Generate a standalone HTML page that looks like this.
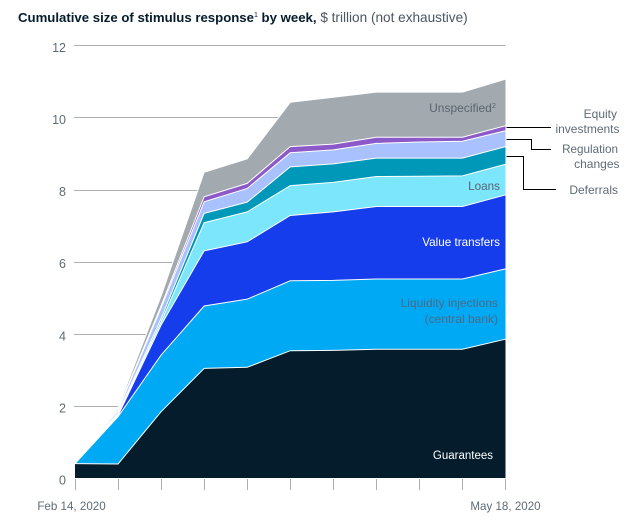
<!DOCTYPE html>
<html>
<head>
<meta charset="utf-8">
<style>
html,body{margin:0;padding:0;background:#fff;}
body{width:639px;height:522px;overflow:hidden;font-family:"Liberation Sans",sans-serif;}
svg{display:block;}
text{font-family:"Liberation Sans",sans-serif;}
</style>
</head>
<body>
<svg id="chart" width="639" height="522" viewBox="0 0 639 522" xmlns="http://www.w3.org/2000/svg">
  <text x="18" y="22" font-size="13.2" fill="#051c2c"><tspan font-weight="bold" fill="#051c2c">Cumulative size of stimulus response</tspan><tspan font-size="7" dy="-5" fill="#051c2c">1</tspan><tspan font-weight="bold" dy="5" fill="#051c2c"> by week,</tspan><tspan font-size="13.6" fill="#4a5560"> $ trillion (not exhaustive)</tspan></text>
  <g id="grid"></g>
  <g id="areas"></g>
  <g id="edges"></g>
  <g id="axis"></g>
  <g id="labels"></g>
  <g fill="none" stroke="#000" stroke-width="1">
    <path d="M506.5 127.5H551"/>
    <path d="M506.5 139.5H531.5V149.5H551"/>
    <path d="M506.5 156.5H523.5V189.5H556"/>
  </g>
</svg>
<script>
var weeks = ['Feb 14, 2020','','','','','','','','','','May 18, 2020'];
var yTicks = [0,2,4,6,8,10,12];
var guarantees   = [0.40,0.39,1.84,3.04,3.07,3.53,3.54,3.57,3.57,3.57,3.85];
var liquidity    = [0.00,1.31,1.57,1.73,1.89,1.94,1.94,1.95,1.95,1.95,1.95];
var valueTransfers = [0.00,0.03,0.83,1.53,1.59,1.81,1.90,2.01,2.01,2.01,2.05];
var loans        = [0.00,0.04,0.09,0.78,0.83,0.83,0.82,0.83,0.84,0.85,0.85];
var deferrals    = [0.00,0.03,0.09,0.26,0.27,0.52,0.51,0.51,0.50,0.49,0.49];
var regulation   = [0.00,0.07,0.30,0.32,0.38,0.39,0.39,0.41,0.45,0.47,0.44];
var equity       = [0.00,0.03,0.06,0.14,0.14,0.17,0.16,0.17,0.13,0.11,0.14];
var unspecified  = [0.00,0.05,0.27,0.68,0.68,1.23,1.30,1.25,1.25,1.25,1.29];

var NS = 'http://www.w3.org/2000/svg';
function xScale(i){ return 75 + i * (505.5 - 75) / (weeks.length - 1); }
function yScale(v){ return 478 - v * (478 - 45.3) / 12; }
function make(tag, attrs, parent){
  var el = document.createElementNS(NS, tag);
  for (var k in attrs) el.setAttribute(k, attrs[k]);
  parent.appendChild(el);
  return el;
}

var gridG = document.getElementById('grid');
var axisG = document.getElementById('axis');
var labelG = document.getElementById('labels');

yTicks.forEach(function(t){
  var y = Math.round(yScale(t)) + 0.5;
  if (t > 0) {
    var g = make('line', {x1:74, x2:505.5, y1:y, y2:y, stroke:'#acafb2', 'stroke-width':1}, gridG);
    
    
  }
  var lab = make('text', {x:66, y:yScale(t) + 6.5, 'text-anchor':'end', 'font-size':12.5, fill:'#5f6b76'}, axisG);
  lab.textContent = String(t);
  
  
});

weeks.forEach(function(w, i){
  var x = Math.floor(xScale(i)) + 0.5;
  var tk = make('line', {x1:x, x2:x, y1:479, y2:490, stroke:'#acafb2', 'stroke-width':1}, axisG);
  
  
  if (w) {
    var tl = make('text', {x:xScale(i) - 3.5 + (i === 0 ? 0 : 3.5), y:510, 'text-anchor':'middle', 'font-size':11.6, fill:'#5f6b76'}, axisG);
    tl.textContent = w;
    
    
  }
});

var seriesValues = [guarantees, liquidity, valueTransfers, loans, deferrals, regulation, equity, unspecified];
var seriesNames = ['guarantees','liquidity-injections','value-transfers','loans','deferrals','regulation-changes','equity-investments','unspecified'];
var seriesColors = ['#051c2c','#00a9f4','#163deb','#7ce6fd','#0098b8','#a9c1ff','#8c5ac8','#a2aab0'];

var areasG = document.getElementById('areas');
var edgesG = document.getElementById('edges');
var base = weeks.map(function(){ return 0; });
seriesValues.forEach(function(vals, s){
  var top = base.map(function(b, i){ return b + vals[i]; });
  var d = '';
  top.forEach(function(v, i){ d += (i ? 'L' : 'M') + xScale(i).toFixed(2) + ' ' + yScale(v).toFixed(2); });
  var ld = d;
  for (var i = base.length - 1; i >= 0; i--) d += 'L' + xScale(i).toFixed(2) + ' ' + yScale(base[i]).toFixed(2);
  d += 'Z';
  var area = make('path', {d:d, fill:seriesColors[s]}, areasG);
  
  
  var edge = make('path', {d:ld, fill:'none', stroke:'#fff', 'stroke-width':1}, edgesG);
  
  
  base = top;
});

function addLabel(name, text, x, y, fill, size){
  var t = make('text', {x:x, y:y, 'text-anchor':'end', 'font-size':size || 12, fill:fill}, labelG);
  t.textContent = text;
  
  
  return t;
}
var un = addLabel('label-unspecified', 'Unspecified', 496, 112, '#5b6570');
var unSup = make('tspan', {'font-size':7.5, dy:-4}, un);
unSup.textContent = '2';
addLabel('label-loans', 'Loans', 500, 190, '#5b6570', 11.7);
addLabel('label-value-transfers', 'Value transfers', 500, 246, '#ffffff', 11.7);
addLabel('label-liquidity-1', 'Liquidity injections', 498, 307, '#4e6a86');
addLabel('label-liquidity-2', '(central bank)', 498, 323, '#4e6a86');
addLabel('label-guarantees', 'Guarantees', 493, 459, '#ffffff', 11.5);
addLabel('label-equity-1', 'Equity', 617, 118, '#5f6b76');
addLabel('label-equity-2', 'investments', 619.5, 133, '#5f6b76');
addLabel('label-regulation-1', 'Regulation', 618, 153, '#5f6b76', 11.7);
addLabel('label-regulation-2', 'changes', 619.5, 168, '#5f6b76');
addLabel('label-deferrals', 'Deferrals', 618, 194, '#5f6b76');
</script>
</body>
</html>
